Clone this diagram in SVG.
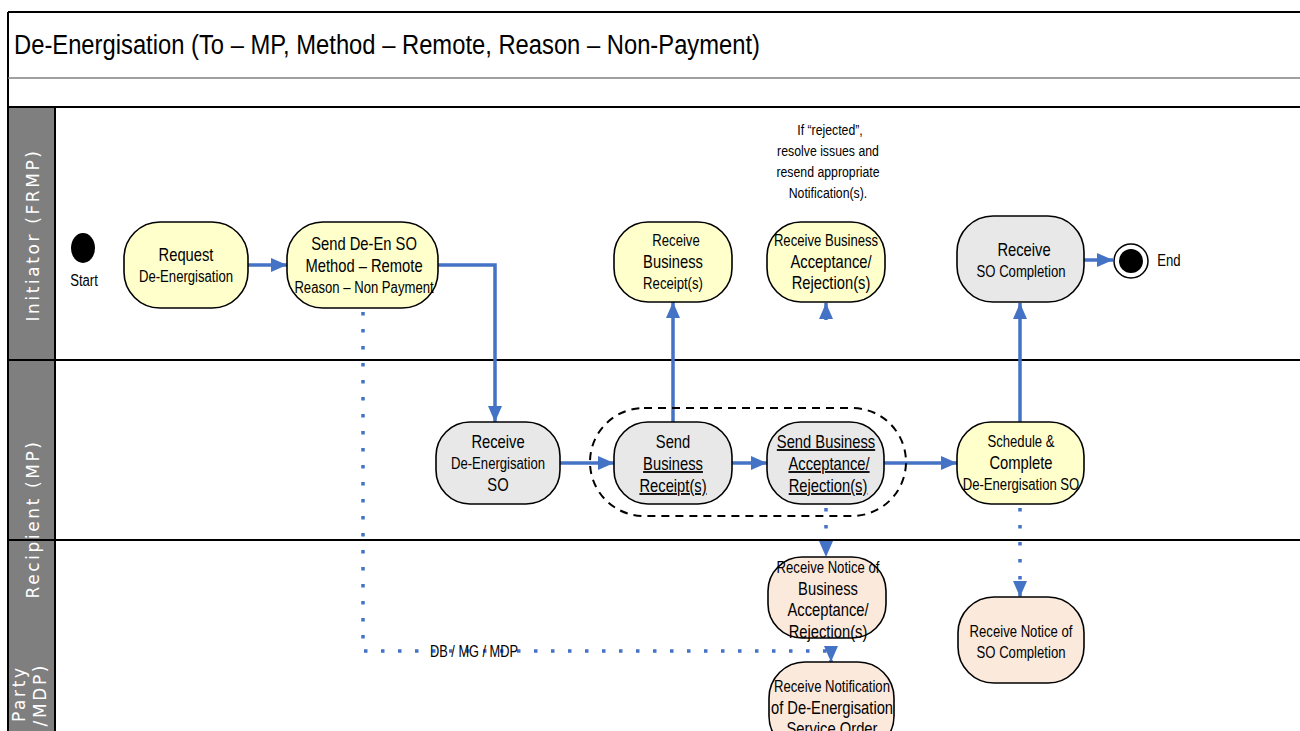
<svg xmlns="http://www.w3.org/2000/svg" width="1300" height="731" viewBox="0 0 1300 731">
<defs>
<style>
.lanehead{fill:#7f7f7f;stroke:#000;stroke-width:2}
.lanelbl{font-family:"DejaVu Sans",Verdana,sans-serif;font-size:17px;letter-spacing:2.6px;fill:#fff}
.title{font-family:"Liberation Sans",Arial,sans-serif;font-size:27px;fill:#000}
.yel{fill:#FFFFCC;stroke:#000;stroke-width:1.6}
.gry{fill:#E8E8E8;stroke:#000;stroke-width:1.6}
.pch{fill:#FBE9DC;stroke:#000;stroke-width:1.6}
.t{font-family:"Liberation Sans",Arial,sans-serif;font-size:18px;text-anchor:middle;fill:#000}
.s{font-size:16px}
.u{text-decoration:underline}
.note{font-family:"Liberation Sans",Arial,sans-serif;font-size:15px;text-anchor:middle;fill:#000}
.flow{fill:none;stroke:#4472C4;stroke-width:3.5;marker-end:url(#arr)}
.dot{fill:none;stroke:#4472C4;stroke-width:3.5;stroke-dasharray:3.5 13.5;marker-end:url(#arr)}
</style>
<marker id="arr" viewBox="0 0 16 14" refX="16" refY="7" markerWidth="16" markerHeight="14" markerUnits="userSpaceOnUse" orient="auto">
<path d="M0,0 L16,7 L0,14 z" fill="#4472C4"/>
</marker>
</defs>
<rect x="0" y="0" width="1300" height="731" fill="#fff"/>

<g id="frame">
<line x1="8" y1="12" x2="1300" y2="12" stroke="#000" stroke-width="2"/>
<line x1="8" y1="12" x2="8" y2="731" stroke="#000" stroke-width="2"/>
<line x1="8" y1="78" x2="1300" y2="78" stroke="#808080" stroke-width="1.5"/>
<line x1="8" y1="107" x2="1300" y2="107" stroke="#000" stroke-width="2"/>
<text class="title" x="14" y="54" textLength="746" lengthAdjust="spacingAndGlyphs">De-Energisation (To – MP, Method – Remote, Reason – Non-Payment)</text>
</g>

<g id="lanes">
<rect class="lanehead" x="8" y="107" width="47" height="630"/>
<line x1="8" y1="360" x2="1300" y2="360" stroke="#000" stroke-width="2"/>
<line x1="8" y1="540" x2="1300" y2="540" stroke="#000" stroke-width="2"/>
<text class="lanelbl" transform="translate(39,235) rotate(-90)" text-anchor="middle">Initiator (FRMP)</text>
<text class="lanelbl" transform="translate(39,519) rotate(-90)" text-anchor="middle">Recipient (MP)</text>
<text class="lanelbl" transform="translate(25,722) rotate(-90)" text-anchor="start">Party</text>
<text class="lanelbl" transform="translate(46,663) rotate(-90)" text-anchor="end">/MDP)</text>
</g>

<g id="connectors">
<path class="flow" d="M248,265 L287,265"/>
<path class="flow" d="M438,265 L495,265 L495,422"/>
<path class="flow" d="M560,463 L614,463"/>
<path class="flow" d="M732,463 L767,463"/>
<path class="flow" d="M884,463 L957,463"/>
<path class="flow" d="M673,422 L673,302"/>
<path class="flow" d="M826,320 L826,303"/>
<path class="flow" d="M1020,422 L1020,303"/>
<path class="flow" d="M1084,260 L1113,260"/>
<path class="dot" d="M363,312 L363,651 L831,651 L831,662"/>
<path class="dot" d="M826,508 L826,557"/>
<path class="dot" d="M1020,508 L1020,597"/>
<text class="t s" x="430" y="657" text-anchor="start" style="text-anchor:start" textLength="88" lengthAdjust="spacingAndGlyphs">DB / MG / MDP</text>
</g>

<g id="start">
<ellipse cx="83" cy="248" rx="12" ry="15" fill="#000"/>
<text class="t s" transform="matrix(.82 0 0 1 84 286)">Start</text>
</g>

<g id="request">
<rect class="yel" x="124" y="222" width="124" height="86" rx="36" ry="36"/>
<text class="t" transform="matrix(.82 0 0 1 186 261)">Request</text>
<text class="t s" transform="matrix(.82 0 0 1 186 282)">De-Energisation</text>
</g>

<g id="sendDeEn">
<rect class="yel" x="287" y="222" width="151" height="86" rx="36" ry="36"/>
<text class="t" transform="matrix(.82 0 0 1 364 250)">Send De-En SO</text>
<text class="t" transform="matrix(.82 0 0 1 364 272)">Method – Remote</text>
<text class="t s" transform="matrix(.82 0 0 1 364 293)">Reason – Non Payment</text>
</g>

<g id="receiveDeEn">
<rect class="gry" x="436" y="422" width="124" height="82" rx="34" ry="34"/>
<text class="t" transform="matrix(.82 0 0 1 498 448)">Receive</text>
<text class="t s" transform="matrix(.82 0 0 1 498 469)">De-Energisation</text>
<text class="t" transform="matrix(.82 0 0 1 498 491)">SO</text>
</g>

<g id="group">
<rect x="590" y="408" width="316" height="108" rx="54" ry="54" fill="none" stroke="#000" stroke-width="2" stroke-dasharray="8 6"/>
</g>

<g id="sendBR">
<rect class="gry" x="614" y="422" width="118" height="82" rx="34" ry="34"/>
<text class="t" transform="matrix(.82 0 0 1 673 448)">Send</text>
<text class="t u" transform="matrix(.82 0 0 1 673 470)">Business</text>
<text class="t u" transform="matrix(.82 0 0 1 673 492)">Receipt(s)</text>
</g>

<g id="sendBA">
<rect class="gry" x="767" y="422" width="117" height="82" rx="34" ry="34"/>
<text class="t u" transform="matrix(.82 0 0 1 826 448)">Send Business</text>
<text class="t u" transform="matrix(.82 0 0 1 829 470)">Acceptance/</text>
<text class="t u" transform="matrix(.82 0 0 1 828 492)">Rejection(s)</text>
</g>

<g id="schedule">
<rect class="yel" x="957" y="422" width="127" height="82" rx="34" ry="34"/>
<text class="t s" transform="matrix(.82 0 0 1 1021 447)">Schedule &amp;</text>
<text class="t" transform="matrix(.82 0 0 1 1021 469)">Complete</text>
<text class="t s" transform="matrix(.82 0 0 1 1021 490)">De-Energisation  SO</text>
</g>

<g id="receiveBR">
<rect class="yel" x="614" y="222" width="118" height="80" rx="34" ry="34"/>
<text class="t s" transform="matrix(.82 0 0 1 676 246)">Receive</text>
<text class="t" transform="matrix(.82 0 0 1 673 268)">Business</text>
<text class="t s" transform="matrix(.82 0 0 1 673 289)">Receipt(s)</text>
</g>

<g id="receiveBA">
<rect class="yel" x="767" y="222" width="118" height="80" rx="34" ry="34"/>
<text class="t s" transform="matrix(.82 0 0 1 826 246)">Receive Business</text>
<text class="t" transform="matrix(.82 0 0 1 831 268)">Acceptance/</text>
<text class="t" transform="matrix(.82 0 0 1 831 289)">Rejection(s)</text>
</g>

<g id="note">
<text class="note" transform="matrix(.82 0 0 1 830 135)">If “rejected”,</text>
<text class="note" transform="matrix(.82 0 0 1 828 156)">resolve issues and</text>
<text class="note" transform="matrix(.82 0 0 1 828 177)">resend appropriate</text>
<text class="note" transform="matrix(.82 0 0 1 828 198)">Notification(s).</text>
</g>

<g id="receiveSOC">
<rect class="gry" x="957" y="216" width="127" height="86" rx="36" ry="36"/>
<text class="t" transform="matrix(.82 0 0 1 1024 256)">Receive</text>
<text class="t s" transform="matrix(.82 0 0 1 1021 277)">SO Completion</text>
</g>

<g id="end">
<circle cx="1131" cy="261" r="17" fill="#fff" stroke="#000" stroke-width="1.5"/>
<circle cx="1131" cy="261" r="12" fill="#000"/>
<text class="t s" transform="matrix(.82 0 0 1 1169 266)">End</text>
</g>

<g id="noticeBA">
<rect class="pch" x="768" y="557" width="118" height="81" rx="34" ry="34"/>
<text class="t s" transform="matrix(.82 0 0 1 828 573)">Receive Notice of</text>
<text class="t" transform="matrix(.82 0 0 1 828 595)">Business</text>
<text class="t" transform="matrix(.82 0 0 1 828 616)">Acceptance/</text>
<text class="t" transform="matrix(.82 0 0 1 828 638)">Rejection(s)</text>
</g>

<g id="noticeSOC">
<rect class="pch" x="958" y="597" width="126" height="86" rx="36" ry="36"/>
<text class="t s" transform="matrix(.82 0 0 1 1021 637)">Receive Notice of</text>
<text class="t s" transform="matrix(.82 0 0 1 1021 658)">SO Completion</text>
</g>

<g id="notification">
<rect class="pch" x="769" y="662" width="125" height="90" rx="36" ry="36"/>
<text class="t s" transform="matrix(.82 0 0 1 832 692)">Receive Notification</text>
<text class="t" transform="matrix(.82 0 0 1 832 714)">of De-Energisation</text>
<text class="t" transform="matrix(.82 0 0 1 832 735)">Service Order</text>
</g>
</svg>
